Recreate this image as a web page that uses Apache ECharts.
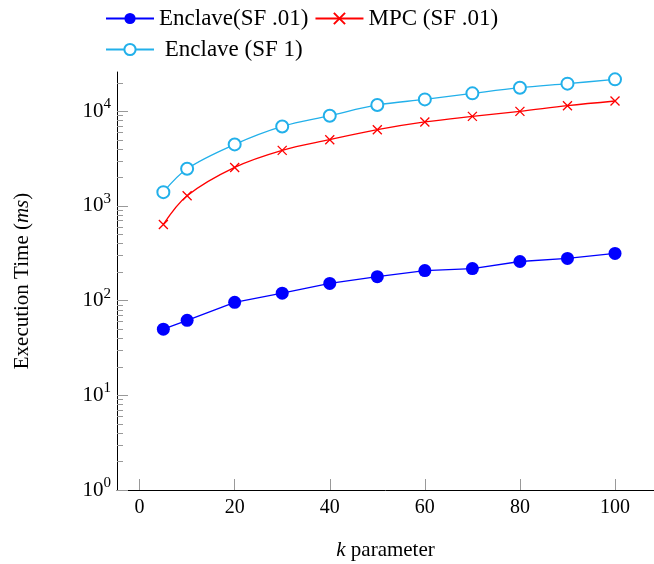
<!DOCTYPE html>
<html>
<head>
<meta charset="utf-8">
<script src="https://cdn.jsdelivr.net/npm/echarts@6/dist/echarts.min.js"></script>
<style>html,body{margin:0;padding:0;background:#fff;}#c{width:654px;height:564px;}</style>
</head>
<body>
<div id="c"></div>
<script>
const kValues = [5, 10, 20, 30, 40, 50, 60, 70, 80, 90, 100];
const enclaveSF001 = [50, 62, 96, 120, 152, 179, 208, 218, 259, 279, 315];
const mpcSF001 = [638, 1282, 2553, 3863, 5012, 6394, 7711, 8830, 9970, 11460, 12850];
const enclaveSF1 = [1400, 2473, 4467, 6920, 8980, 11660, 13360, 15460, 17750, 19590, 21740];
const xTicks = [0, 20, 40, 60, 80, 100];
const yTicks = [1, 10, 100, 1000, 10000];
const yMinorTicks = [];
for (let d = 1; d <= 10000; d *= 10) {
  for (let m = 2; m <= 9; m++) { if (m * d < 26000) yMinorTicks.push(m * d); }
}
const names = ['Enclave(SF .01)', 'MPC (SF .01)', ' Enclave (SF 1)'];

const pairs = vals => kValues.map((k, i) => [k, vals[i]]);
const FONT = 'Liberation Serif';

const chart = echarts.init(document.getElementById('c'));
chart.setOption({
  animation: false,
  textStyle: { fontFamily: FONT, color: '#000' },
  legend: [
    { data: [names[0], names[1]], left: 100, top: 2, itemWidth: 48, itemHeight: 14, itemGap: 6,
      textStyle: { fontFamily: FONT, fontSize: 23, color: '#000' } },
    { data: [names[2]], left: 100, top: 33, itemWidth: 48, itemHeight: 14,
      textStyle: { fontFamily: FONT, fontSize: 23, color: '#000' } }
  ],
  grid: { left: 117, right: 0, top: 72, bottom: 74, containLabel: false, outerBoundsMode: 'none' },
  xAxis: {
    type: 'value', min: -4.75, max: 108.2,
    name: '{i|k} parameter', nameLocation: 'middle', nameGap: 50,
    nameTextStyle: { fontFamily: FONT, fontSize: 21, color: '#000',
      rich: { i: { fontFamily: FONT, fontStyle: 'italic', fontSize: 21, color: '#000' } } },
    axisLine: { onZero: false, lineStyle: { color: '#000', width: 1 } },
    axisTick: { inside: true, length: 11, lineStyle: { color: '#999' }, customValues: xTicks },
    axisLabel: { fontFamily: FONT, fontSize: 20, color: '#000', margin: 8, customValues: xTicks },
    splitLine: { show: false }
  },
  yAxis: [
    {
      type: 'log', logBase: 10, min: 1, max: 26000,
      name: 'Execution Time ({i|ms})', nameLocation: 'middle', nameGap: 84,
      nameTextStyle: { fontFamily: FONT, fontSize: 21, color: '#000',
        rich: { i: { fontFamily: FONT, fontStyle: 'italic', fontSize: 21, color: '#000' } } },
      axisLine: { show: true, onZero: false, lineStyle: { color: '#000', width: 1 } },
      axisTick: { inside: true, length: 11, lineStyle: { color: '#999' }, customValues: yTicks },
      axisLabel: {
        fontFamily: FONT, fontSize: 21, color: '#000', margin: 6, customValues: yTicks,
        formatter: v => '{b|10}{s|' + Math.round(Math.log10(v)) + '}',
        rich: {
          b: { fontFamily: FONT, fontSize: 21, color: '#000' },
          s: { fontFamily: FONT, fontSize: 15, color: '#000', verticalAlign: 'top', padding: [0, 0, 14, 0] }
        }
      },
      splitLine: { show: false }
    },
    {
      type: 'log', logBase: 10, min: 1, max: 26000, position: 'left',
      axisLine: { show: false, onZero: false },
      axisTick: { inside: true, length: 6, lineStyle: { color: '#999' }, customValues: yMinorTicks },
      axisLabel: { show: false },
      splitLine: { show: false }
    }
  ],
  series: [
    { name: names[0], type: 'line', data: pairs(enclaveSF001), symbol: 'circle', symbolSize: 13,
      itemStyle: { color: '#0000ff' }, lineStyle: { color: '#0000ff', width: 1.3 } },
    { name: names[1], type: 'line', data: pairs(mpcSF001), smooth: 0.35,
      symbol: 'path://M0,0L10,10M10,0L0,10', symbolSize: 9,
      itemStyle: { color: '#ff0000', borderColor: '#ff0000', borderWidth: 1.3 },
      lineStyle: { color: '#ff0000', width: 1.3 } },
    { name: names[2], type: 'line', data: pairs(enclaveSF1), smooth: 0.35,
      symbol: 'emptyCircle', symbolSize: 12,
      itemStyle: { color: '#22b0ea', borderColor: '#22b0ea', borderWidth: 1.3 },
      lineStyle: { color: '#22b0ea', width: 1.3 } }
  ]
});
</script>
</body>
</html>
